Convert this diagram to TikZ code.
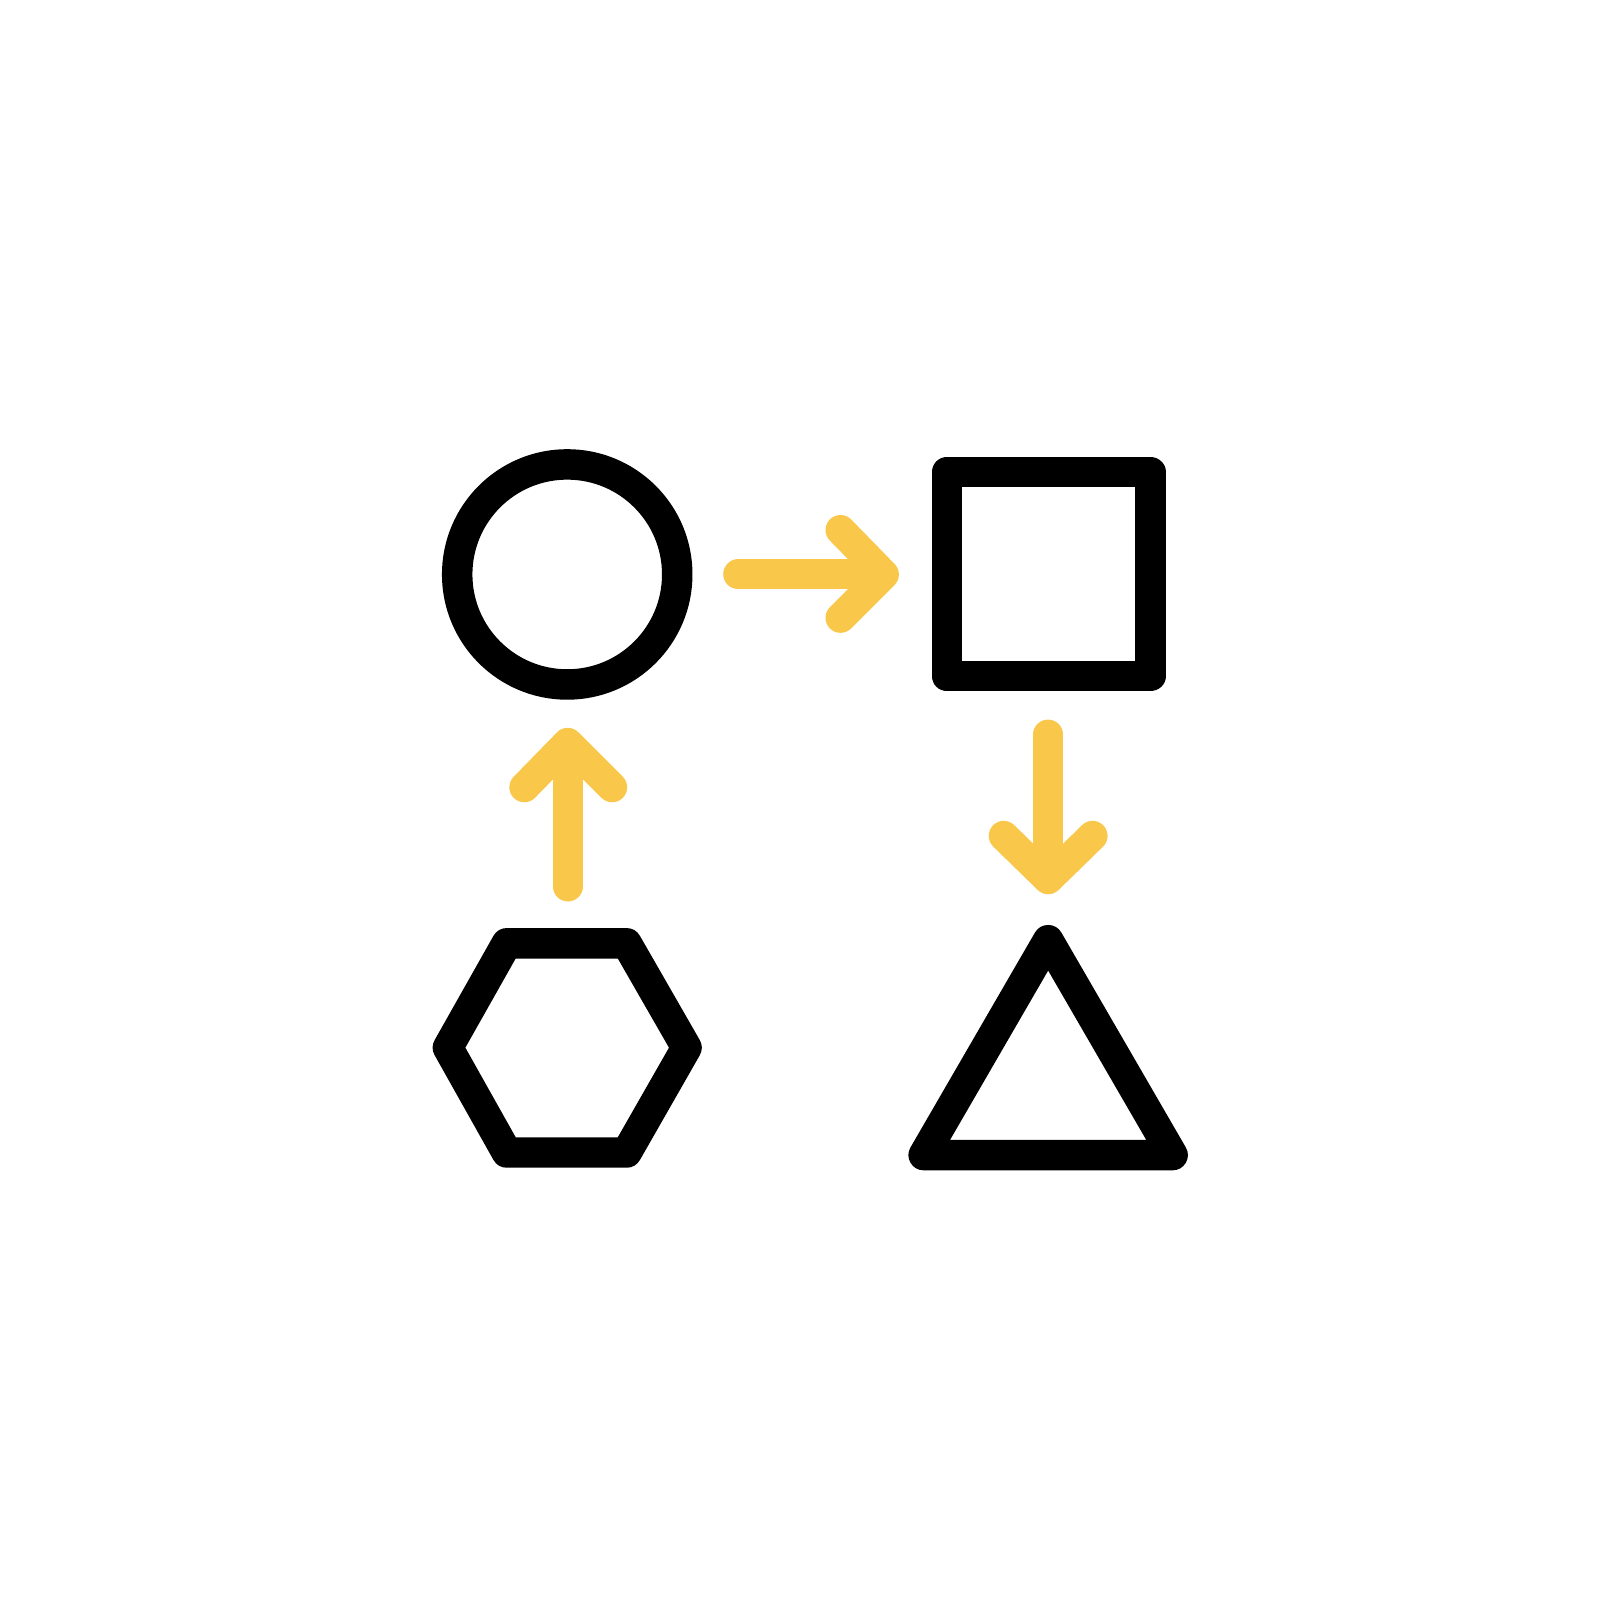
\documentclass[tikz,border=0pt]{standalone}
\definecolor{arrowyellow}{RGB}{249,199,73}
\begin{document}
\begin{tikzpicture}[x=1pt,y=-1pt,
  shapeline/.style={draw=black,line width=29.5pt,line join=round},
  arrowline/.style={draw=arrowyellow,line width=29pt,line cap=round,line join=round}]
\useasboundingbox[fill=white] (0,0) rectangle (1568,1568);
% circle
\draw[shapeline] (549,556) circle[radius=106.5];
% square
\draw[shapeline] (916.5,457) rectangle (1113.5,654.5);
% hexagon
\draw[shapeline] (490.5,913) -- (606.5,913) -- (664.5,1014) -- (606.5,1115.5) -- (490.5,1115.5) -- (433.5,1014) -- cycle;
% triangle
\draw[shapeline] (1014.5,910) -- (1135,1118) -- (894,1118) -- cycle;
% right arrow
\draw[arrowline] (714.5,556) -- (852,556);
\draw[arrowline] (813.5,513) -- (855.5,556) -- (813.5,598);
% up arrow
\draw[arrowline] (549.5,858) -- (549.5,722);
\draw[arrowline] (507.5,762) -- (549.5,719) -- (592.5,762);
% down arrow
\draw[arrowline] (1014.5,711) -- (1014.5,848);
\draw[arrowline] (971.5,809) -- (1014.5,851) -- (1057.5,809);
\end{tikzpicture}
\end{document}
